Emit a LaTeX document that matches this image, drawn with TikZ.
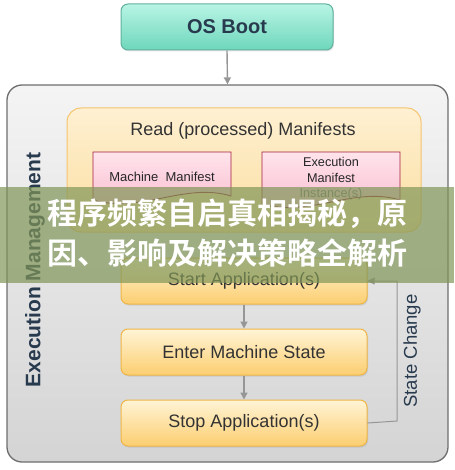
\documentclass[tikz,border=0pt]{standalone}
\usepackage{fontspec}
\setmainfont{Liberation Sans}
\newfontfamily\cjkfont[BoldFont={Noto Sans CJK SC Bold}]{Noto Sans CJK SC}
\usetikzlibrary{arrows.meta,positioning,shadows}

\definecolor{bootTop}{RGB}{184,244,228}
\definecolor{bootBot}{RGB}{110,215,188}
\definecolor{bootLine}{RGB}{96,176,158}
\definecolor{outerTop}{RGB}{244,244,244}
\definecolor{outerBot}{RGB}{212,212,212}
\definecolor{outerLine}{RGB}{110,110,110}
\definecolor{readTop}{RGB}{254,240,210}
\definecolor{readBot}{RGB}{252,222,160}
\definecolor{readLine}{RGB}{244,196,110}
\definecolor{stepTop}{RGB}{255,244,214}
\definecolor{stepBot}{RGB}{252,206,112}
\definecolor{stepLine}{RGB}{238,182,72}
\definecolor{pinkTop}{RGB}{255,228,236}
\definecolor{pinkBot}{RGB}{249,184,204}
\definecolor{pinkLine}{RGB}{160,30,62}
\definecolor{flowGray}{RGB}{150,150,150}
\definecolor{labelBlue}{RGB}{40,58,78}
\definecolor{bannerGreen}{RGB}{128,150,88}

\tikzset{
  bootbox/.style={draw=bootLine, line width=1pt, rounded corners=7pt,
    top color=bootTop, bottom color=bootBot,
    minimum width=212pt, minimum height=46pt,
    font=\fontsize{20}{24}\selectfont\bfseries, text=labelBlue,
    drop shadow={opacity=0.2, shadow xshift=1pt, shadow yshift=-1.5pt}},
  outerbox/.style={draw=outerLine, line width=1.3pt, rounded corners=15pt,
    top color=outerTop, bottom color=outerBot,
    minimum width=441pt, minimum height=377pt},
  readbox/.style={draw=readLine, line width=1pt, rounded corners=14pt,
    top color=readTop, bottom color=readBot,
    minimum width=354pt, minimum height=124pt},
  stepbox/.style={draw=stepLine, line width=1pt, rounded corners=7pt,
    top color=stepTop, bottom color=stepBot,
    minimum width=246pt, minimum height=46pt,
    font=\fontsize{18}{21}\selectfont, text=black!80,
    drop shadow={opacity=0.2, shadow xshift=1pt, shadow yshift=-1.5pt}},
  manifest/.style={draw=pinkLine, line width=0.9pt,
    top color=pinkTop, bottom color=pinkBot},
  flow/.style={draw=flowGray, line width=1.4pt, -{Triangle[length=7pt,width=7pt]}},
}

\begin{document}
\begin{tikzpicture}[x=1pt, y=-1pt]
  \useasboundingbox (0,0) rectangle (454,470);

  % OS boot
  \node (boot) [bootbox] at (227,27) {OS Boot};

  % Execution management frame
  \node (em) [outerbox] at (227.5,273.5) {};
  \node (emlabel) [rotate=90, font=\fontsize{21}{24}\selectfont\bfseries, text=labelBlue]
    at (35,270) {Execution Management};
  \draw [flow] (boot.south) -- (em.north);

  % Manifests
  \node (read) [readbox] at (244,170) {};
  \node (readtitle) [font=\fontsize{18}{21}\selectfont, text=black!80] at (243,131)
    {Read (processed) Manifests};

  \draw [manifest] (93,152) -- (231,152) -- (231,196)
    .. controls (185,182) and (140,214) .. (93,200) -- cycle;
  \node (machine) [font=\fontsize{13}{16}\selectfont, text=black!85] at (162,177)
    {Machine~ Manifest};

  \draw [manifest] (262,152) -- (400,152) -- (400,200)
    .. controls (354,186) and (309,218) .. (262,204) -- cycle;
  \node (exec) [align=center, font=\fontsize{12.7}{16}\selectfont, text=black!85] at (331,170)
    {Execution\\Manifest};
  \node (inst) [font=\fontsize{12.7}{15}\selectfont, text=black!55] at (331,194) {Instance(s)};

  % Steps
  \node (start) [stepbox] at (244,281) {Start Application(s)};
  \node (enter) [stepbox, below=24pt of start] {Enter Machine State};
  \node (stop) [stepbox, below=24pt of enter] {Stop Application(s)};
  \draw [flow] (start) -- (enter);
  \draw [flow] (enter) -- (stop);

  % State change loop
  \coordinate (loop) at (397,421);
  \draw [flow, line width=1pt] (stop.east) -- (loop) -- (loop |- start.east) -- (start.east);
  \node (sclabel) [rotate=90, font=\fontsize{18.5}{21}\selectfont, text=labelBlue]
    at (412,351) {State Change};

  % Banner
  \fill [bannerGreen, opacity=0.7] (0,187) rectangle (454,283);
  \node (line1) [font=\cjkfont\bfseries\fontsize{30}{34}\selectfont, text=white] at (227,214)
    {程序频繁自启真相揭秘，原};
  \node (line2) [font=\cjkfont\bfseries\fontsize{30}{34}\selectfont, text=white] at (227,253)
    {因、影响及解决策略全解析};
\end{tikzpicture}
\end{document}
